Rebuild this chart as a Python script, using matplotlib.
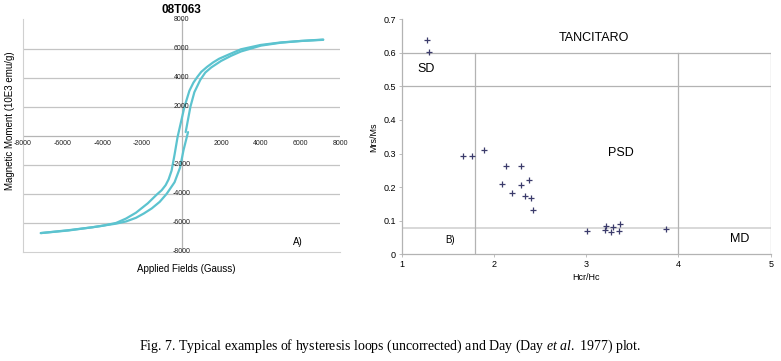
"""
Fig. 7 - hysteresis loop of sample 08T063 (A) and Day plot for Tancitaro (B).
Values read off the published figure.
"""
import matplotlib
matplotlib.use("Agg")
import matplotlib.pyplot as plt

plt.rcParams["font.family"] = ["Liberation Sans", "DejaVu Sans"]
plt.rcParams["mathtext.fontset"] = "custom"
plt.rcParams["mathtext.rm"] = "Liberation Serif"
plt.rcParams["mathtext.it"] = "Liberation Serif:italic"

# --- A) hysteresis loop (field in Gauss, moment in 10E3 emu/g) ---
desc_field = [7150, 6000, 5000, 4000, 3000, 2400, 1900, 1600, 1300, 1000, 800, 600, 400,
              150, -50, -200, -350, -500, -650, -800, -1000, -1250, -1700, -2300, -2800,
              -3300, -4000, -4500, -5700, -7100]
desc_moment = [6600, 6520, 6420, 6250, 5950, 5600, 5300, 5050, 4750, 4400, 4050, 3650, 3100,
               2000, 800, -100, -1300, -2400, -3000, -3400, -3750, -4050, -4650, -5300, -5700,
               -6000, -6200, -6300, -6500, -6700]
asc_low_field = [-7100, -5700, -4500, -3300, -2800, -2300, -1900, -1500, -1100, -750,
                 -350, -75, 100, 330]
asc_low_moment = [-6700, -6520, -6300, -6050, -5900, -5650, -5350, -5000, -4550, -4000,
                  -3200, -2200, -1000, 250]
asc_high_field = [210, 450, 650, 950, 1200, 1500, 2000, 2500, 3000, 4000, 5000, 6000, 7150]
asc_high_moment = [250, 2000, 3000, 3850, 4350, 4700, 5150, 5500, 5800, 6200, 6400, 6520, 6620]
loop_ticks = [-8000, -6000, -4000, -2000, 2000, 4000, 6000, 8000]

# --- B) Day plot ---
hcr_hc = [1.27, 1.30, 1.66, 1.76, 1.89, 2.13, 2.29, 2.09, 2.29, 2.38, 2.20, 2.34,
          2.40, 2.42, 3.01, 3.22, 3.20, 3.27, 3.29, 3.37, 3.36, 3.87]
mrs_ms = [0.637, 0.604, 0.293, 0.293, 0.312, 0.264, 0.262, 0.210, 0.206, 0.220, 0.184,
          0.173, 0.167, 0.132, 0.068, 0.085, 0.071, 0.066, 0.081, 0.091, 0.068, 0.076]
sd_limit, psd_limit, md_limit = 0.5, 0.6, 0.077
hc_low, hc_high = 1.79, 4.0

fig = plt.figure(figsize=(7.81, 3.61), dpi=100)

# ---------------- A ----------------
ax = fig.add_axes([0.0294, 0.302, 0.406, 0.644])
teal = "#5cc3cf"
for xs, ys in [(desc_field, desc_moment), (asc_low_field, asc_low_moment),
               (asc_high_field, asc_high_moment)]:
    ax.plot(xs, ys, color=teal, lw=1.6, solid_capstyle="round", solid_joinstyle="round")
ax.set_xlim(-8000, 8000)
ax.set_ylim(-8000, 8000)
for v in [-6000, -4000, -2000, 2000, 4000, 6000]:
    ax.axhline(v, color="#c4c4c4", lw=0.9, zorder=0)
ax.axhline(0, color="#b5b5b5", lw=0.9, zorder=0)
ax.axvline(0, color="#b5b5b5", lw=0.9, zorder=0)
ax.set_xticks([])
ax.set_yticks([])
for s in ["top", "right"]:
    ax.spines[s].set_visible(False)
for s in ["left", "bottom"]:
    ax.spines[s].set_color("#d0d0d0")
    ax.spines[s].set_linewidth(0.8)
for v in loop_ticks:
    ax.text(0, v, str(v), ha="center", va="center", fontsize=5, color="#222222",
            clip_on=False)
    ax.text(v, -500, str(v), ha="center", va="center", fontsize=5, color="#222222",
            clip_on=False)
ax.set_title("08T063", fontsize=8.5, fontweight="bold", pad=4.5)
ax.text(5600, -7300, "A)", fontsize=7, ha="left", va="center")
fig.text(0.0125, 0.667, "Magnetic Moment (10E3 emu/g)", rotation=90, fontsize=7,
         ha="center", va="center")
fig.text(0.239, 0.255, "Applied Fields (Gauss)", fontsize=7, ha="center", va="center")

# ---------------- B ----------------
bx = fig.add_axes([0.5143, 0.2956, 0.4725, 0.651])
bx.set_xlim(1, 5)
bx.set_ylim(0, 0.7)
grey = "#b3b3b3"
bx.plot([1, 5], [psd_limit, psd_limit], color=grey, lw=0.9)
bx.plot([1, 5], [sd_limit, sd_limit], color=grey, lw=0.9)
bx.plot([1, 5], [md_limit, md_limit], color="#d5d5d5", lw=1.3)
bx.plot([hc_low, hc_low], [0, psd_limit], color=grey, lw=0.9)
bx.plot([hc_high, hc_high], [0, psd_limit], color=grey, lw=0.9)
bx.plot([5, 5], [0, psd_limit], color=grey, lw=0.9)
bx.plot(hcr_hc, mrs_ms, ls="none", marker="+", ms=4, mew=0.9, color="#3b3b6b")
for s in ["top", "right"]:
    bx.spines[s].set_visible(False)
for s in ["left", "bottom"]:
    bx.spines[s].set_color(grey)
    bx.spines[s].set_linewidth(0.9)
bx.set_xticks([1, 2, 3, 4, 5])
bx.set_yticks([0, 0.1, 0.2, 0.3, 0.4, 0.5, 0.6, 0.7])
bx.set_yticklabels(["0", "0.1", "0.2", "0.3", "0.4", "0.5", "0.6", "0.7"])
bx.tick_params(labelsize=6.5, length=2, width=0.6, color=grey, pad=2)
bx.set_xlabel("Hcr/Hc", fontsize=6.5, labelpad=3)
bx.set_ylabel("Mrs/Ms", fontsize=6.5, labelpad=4)
bx.text(3.08, 0.643, "TANCITARO", fontsize=9, ha="center", va="center")
bx.text(1.26, 0.552, "SD", fontsize=9, ha="center", va="center")
bx.text(3.38, 0.303, "PSD", fontsize=9, ha="center", va="center")
bx.text(4.66, 0.045, "MD", fontsize=9, ha="center", va="center")
bx.text(1.52, 0.043, "B)", fontsize=7, ha="center", va="center")

fig.text(0.5, 0.042,
         r"Fig. 7. Typical examples of hysteresis loops (uncorrected) and Day "
         r"(Day $\mathit{et\ al.}$ 1977) plot.",
         fontsize=10, ha="center", va="center", family="Liberation Serif")

fig.savefig("out.png", dpi=100)
